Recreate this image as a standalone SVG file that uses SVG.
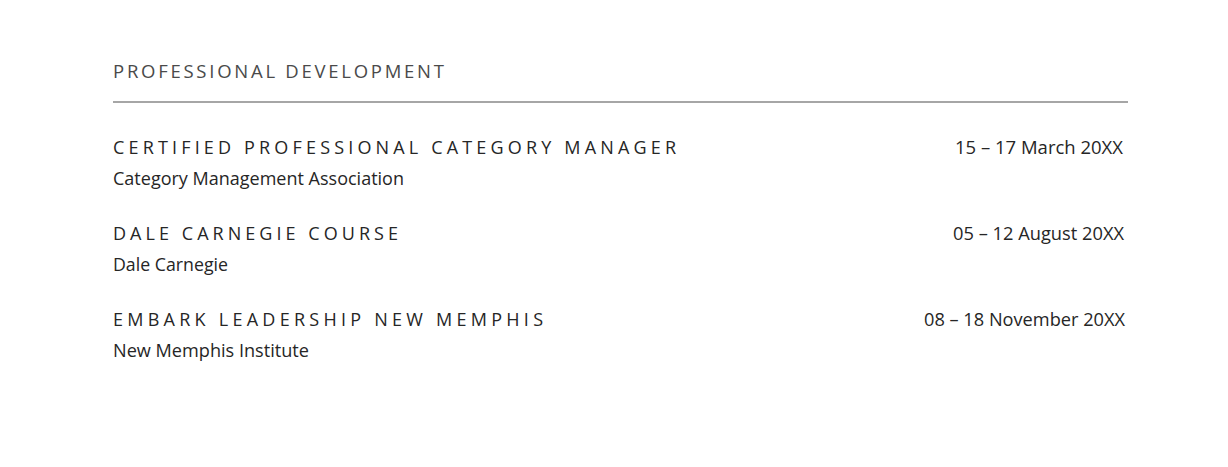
<svg xmlns="http://www.w3.org/2000/svg" width="1228" height="467" viewBox="0 0 1228 467">
<style>
text{font-family:"Open Sans","Noto Sans","Liberation Sans",sans-serif}
.h{font-size:18.5px;fill:#4a4a4a}
.t{font-size:18px;fill:#262626}
.s{font-size:18px;fill:#262626}
.d{font-size:18px;fill:#262626}
</style>
<rect width="1228" height="467" fill="#ffffff"/>
<g id="header">
<text class="h" x="113" y="78" textLength="331" lengthAdjust="spacing">PROFESSIONAL DEVELOPMENT</text>
<line x1="113" y1="102" x2="1128" y2="102" stroke="#a6a6a6" stroke-width="2.2"/>
</g>
<g id="entry1">
<text class="t" x="113" y="154" textLength="563" lengthAdjust="spacing">CERTIFIED PROFESSIONAL CATEGORY MANAGER</text>
<text class="s" x="113" y="185" textLength="291" lengthAdjust="spacingAndGlyphs">Category Management Association</text>
<text class="d" x="955" y="154" textLength="168" lengthAdjust="spacingAndGlyphs">15 – 17 March 20XX</text>
</g>
<g id="entry2">
<text class="t" x="113" y="240" textLength="285" lengthAdjust="spacing">DALE CARNEGIE COURSE</text>
<text class="s" x="113" y="271" textLength="115" lengthAdjust="spacingAndGlyphs">Dale Carnegie</text>
<text class="d" x="953" y="240" textLength="171" lengthAdjust="spacingAndGlyphs">05 – 12 August 20XX</text>
</g>
<g id="entry3">
<text class="t" x="113" y="326" textLength="430" lengthAdjust="spacing">EMBARK LEADERSHIP NEW MEMPHIS</text>
<text class="s" x="113" y="357" textLength="196" lengthAdjust="spacingAndGlyphs">New Memphis Institute</text>
<text class="d" x="924" y="326" textLength="201" lengthAdjust="spacingAndGlyphs">08 – 18 November 20XX</text>
</g>
</svg>
